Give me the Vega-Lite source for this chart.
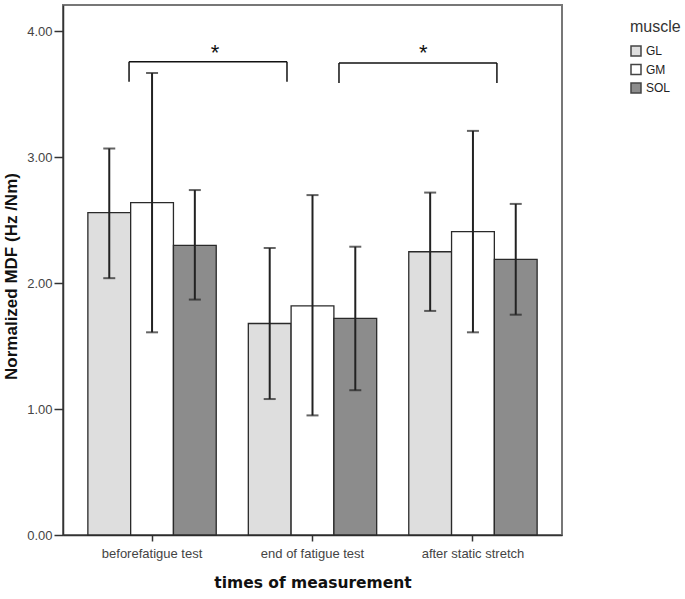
{
  "$schema": "https://vega.github.io/schema/vega-lite/v6.json",
  "width": 499,
  "height": 530,
  "autosize": "none",
  "padding": {"left": 63, "top": 5, "right": 123, "bottom": 64},
  "background": "white",
  "config": {
    "view": {"stroke": "#777", "strokeWidth": 2},
    "font": "Liberation Sans",
    "axis": {"grid": false, "domainColor": "#333", "domainWidth": 1.5, "tickColor": "#333", "tickWidth": 1.5, "labelColor": "#444", "labelFont": "Liberation Sans", "labelFontSize": 13, "titleColor": "#111"}
  },
  "datasets": {
    "bars": [
      {"time": "beforefatigue test", "muscle": "GL", "mean": 2.56, "lo": 2.04, "hi": 3.07},
      {"time": "beforefatigue test", "muscle": "GM", "mean": 2.64, "lo": 1.61, "hi": 3.67},
      {"time": "beforefatigue test", "muscle": "SOL", "mean": 2.30, "lo": 1.87, "hi": 2.74},
      {"time": "end of fatigue test", "muscle": "GL", "mean": 1.68, "lo": 1.08, "hi": 2.28},
      {"time": "end of fatigue test", "muscle": "GM", "mean": 1.82, "lo": 0.95, "hi": 2.70},
      {"time": "end of fatigue test", "muscle": "SOL", "mean": 1.72, "lo": 1.15, "hi": 2.29},
      {"time": "after static stretch", "muscle": "GL", "mean": 2.25, "lo": 1.78, "hi": 2.72},
      {"time": "after static stretch", "muscle": "GM", "mean": 2.41, "lo": 1.61, "hi": 3.21},
      {"time": "after static stretch", "muscle": "SOL", "mean": 2.19, "lo": 1.75, "hi": 2.63}
    ],
    "brackets": [
      {"a": -0.142, "b": 0.836, "y1": 3.76, "y2": 3.76},
      {"a": -0.142, "b": -0.142, "y1": 3.76, "y2": 3.60},
      {"a": 0.836, "b": 0.836, "y1": 3.76, "y2": 3.60},
      {"a": 1.158, "b": 2.136, "y1": 3.75, "y2": 3.75},
      {"a": 1.158, "b": 1.158, "y1": 3.75, "y2": 3.59},
      {"a": 2.136, "b": 2.136, "y1": 3.75, "y2": 3.59}
    ],
    "stars": [
      {"a": 0.39, "y": 3.83, "label": "*"},
      {"a": 1.68, "y": 3.83, "label": "*"}
    ]
  },
  "layer": [
    {
      "data": {"name": "bars"},
      "encoding": {
        "x": {"field": "time", "type": "nominal", "sort": null,
              "scale": {"paddingInner": 0.2, "paddingOuter": 0.155},
              "axis": {"labelAngle": 0, "tickSize": 6, "labelPadding": 6, "title": "times of measurement", "titleFont": "DejaVu Sans", "titleFontSize": 15.5, "titleFontWeight": "bold", "titlePadding": 15}},
        "xOffset": {"field": "muscle", "type": "nominal", "scale": {"paddingInner": 0, "paddingOuter": 0}}
      },
      "layer": [
        {
          "mark": {"type": "bar", "stroke": "#2a2a2a", "strokeWidth": 1.3},
          "encoding": {
            "y": {"field": "mean", "type": "quantitative",
                  "scale": {"domain": [0, 4.21], "nice": false},
                  "axis": {"values": [0, 1, 2, 3, 4], "format": ".2f", "tickSize": 9, "labelPadding": 2, "title": "Normalized MDF (Hz /Nm)", "titleFontSize": 17, "titleFontWeight": "bold", "titlePadding": 6, "titleY": 271}},
            "fill": {"field": "muscle", "type": "nominal",
                     "scale": {"domain": ["GL", "GM", "SOL"], "range": ["#dedede", "#ffffff", "#8c8c8c"]},
                     "legend": {"title": "muscle", "orient": "none", "legendX": 567, "legendY": 14, "symbolType": "square", "symbolSize": 100, "symbolStrokeColor": "#444", "symbolStrokeWidth": 1.5, "labelFontSize": 12, "titleFontSize": 16, "titleFontWeight": "normal", "titleColor": "#333", "labelColor": "#222", "rowPadding": 2.5, "labelOffset": 4, "titlePadding": 10}}
          }
        },
        {
          "mark": {"type": "rule", "color": "#222", "strokeWidth": 2},
          "encoding": {
            "y": {"field": "lo", "type": "quantitative"},
            "y2": {"field": "hi"}
          }
        },
        {
          "mark": {"type": "tick", "color": "#222", "size": 12, "thickness": 2},
          "encoding": {"y": {"field": "hi", "type": "quantitative"}}
        },
        {
          "mark": {"type": "tick", "color": "#222", "size": 12, "thickness": 2},
          "encoding": {"y": {"field": "lo", "type": "quantitative"}}
        }
      ]
    },
    {
      "layer": [
        {
          "data": {"name": "brackets"},
          "mark": {"type": "rule", "color": "#111", "strokeWidth": 1.5},
          "encoding": {
            "x": {"field": "a", "type": "quantitative", "scale": {"domain": [-0.551, 2.539], "nice": false, "zero": false}, "axis": null},
            "x2": {"field": "b"},
            "y": {"field": "y1", "type": "quantitative"},
            "y2": {"field": "y2"}
          }
        },
        {
          "data": {"name": "stars"},
          "mark": {"type": "text", "fontSize": 22, "font": "Liberation Sans", "color": "#111", "baseline": "middle"},
          "encoding": {
            "x": {"field": "a", "type": "quantitative"},
            "y": {"field": "y", "type": "quantitative"},
            "text": {"field": "label"}
          }
        }
      ]
    }
  ],
  "resolve": {"scale": {"x": "independent"}, "axis": {"x": "independent"}}
}
